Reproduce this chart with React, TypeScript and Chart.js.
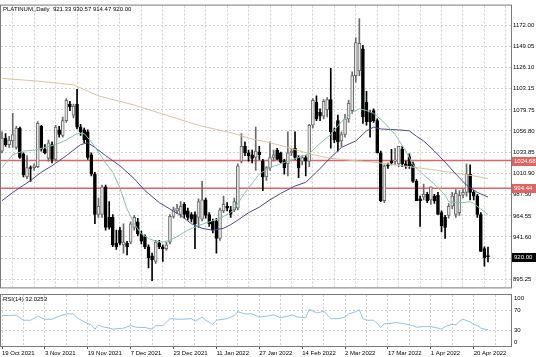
import React, { useEffect, useRef } from 'react';
import { Chart, registerables } from 'chart.js';

Chart.register(...registerables);

// ---------------- DATA ----------------
const TITLE = 'PLATINUM,,Daily  921.33 930.57 914.47 920.00';
const RSI_TITLE = 'RSI(14) 32.0253';

const DATE_LABELS = [
  '19 Oct 2021', '3 Nov 2021', '19 Nov 2021', '7 Dec 2021', '23 Dec 2021', '11 Jan 2022',
  '27 Jan 2022', '14 Feb 2022', '2 Mar 2022', '17 Mar 2022', '1 Apr 2022', '20 Apr 2022',
];

const OPEN = [
  1035, 1049, 1042, 1046, 1039, 1060, 1032, 1007, 1017, 1017, 1018, 1062, 1037, 1027, 1042, 1026, 1058, 1052, 1068, 1086,
  1074, 1086, 1061, 1058, 1056, 1031, 1010, 966, 966, 996, 963, 963, 935, 949, 933, 935, 936, 952, 958, 945,
  942, 931, 921, 915, 935, 931, 929, 936, 964, 970, 966, 977, 970, 966, 966, 963, 961, 982, 966, 959,
  959, 940, 970, 975, 971, 971, 973, 1024, 1040, 1033, 1031, 1028, 1034, 1024, 1007, 1017, 1028, 1036, 1033, 1024,
  1021, 1033, 1038, 1028, 1024, 1028, 1024, 1063, 1088, 1077, 1073, 1080, 1091, 1056, 1068, 1046, 1053, 1070, 1079, 1117,
  1122, 1146, 1088, 1077, 1079, 1068, 1033, 981, 1020, 1024, 1024, 1021, 1037, 1021, 1029, 1021, 1002, 983, 985, 988,
  982, 986, 987, 968, 963, 965, 975, 966, 968, 987, 990, 1010, 990, 986, 966, 929, 921.33,
];
const HIGH = [
  1056, 1054, 1051, 1076, 1062, 1061, 1033, 1030, 1019, 1021, 1067, 1063, 1042, 1047, 1045, 1063, 1062, 1072, 1092, 1089,
  1086, 1102, 1064, 1060, 1058, 1033, 1012, 984, 998, 998, 980, 966, 949, 952, 956, 937, 958, 965, 962, 948,
  944, 933, 924, 938, 938, 933, 936, 966, 974, 977, 980, 979, 973, 968, 969, 983, 1002, 984, 968, 961,
  962, 973, 986, 979, 975, 984, 1021, 1054, 1045, 1036, 1036, 1061, 1040, 1026, 1018, 1045, 1036, 1038, 1034, 1026,
  1056, 1038, 1056, 1030, 1030, 1030, 1064, 1092, 1095, 1081, 1091, 1093, 1125, 1060, 1074, 1056, 1075, 1090, 1121, 1158,
  1179, 1150, 1100, 1079, 1081, 1070, 1035, 1020, 1022, 1037, 1038, 1040, 1040, 1024, 1032, 1023, 1004, 986, 999, 990,
  996, 988, 990, 970, 965, 978, 990, 993, 992, 993, 1021, 1020, 992, 988, 968, 931, 930.57,
];
const LOW = [
  1033, 1040, 1039, 1039, 1037, 1027, 1007, 1005, 1002, 1014, 1017, 1035, 1032, 1024, 1022, 1024, 1050, 1050, 1066, 1079,
  1071, 1059, 1052, 1044, 1026, 1008, 956, 963, 963, 949, 950, 931, 928, 933, 924, 922, 934, 949, 943, 934,
  929, 908, 894, 913, 929, 915, 927, 934, 962, 967, 963, 962, 960, 958, 929, 952, 959, 962, 953, 946,
  924, 938, 968, 970, 963, 969, 971, 1022, 1030, 1024, 1022, 1014, 1026, 992, 1003, 1014, 1024, 1026, 1022, 1010,
  1008, 1030, 1026, 1006, 1020, 1008, 1018, 1060, 1068, 1068, 1070, 1072, 1038, 1044, 1035, 1040, 1050, 1066, 1076, 1110,
  1117, 1065, 1063, 1050, 1066, 1033, 980, 979, 1016, 1020, 1020, 1018, 1018, 1016, 1016, 1001, 981, 953, 982, 979,
  977, 978, 966, 947, 940, 962, 972, 963, 965, 984, 986, 982, 982, 963, 926, 910, 914.47,
];
const CLOSE = [
  1049, 1042, 1047, 1053, 1060, 1028, 1009, 1017, 1016, 1019, 1065, 1037, 1033, 1044, 1026, 1061, 1053, 1068, 1090, 1083,
  1084, 1061, 1056, 1047, 1028, 1010, 966, 975, 996, 952, 952, 933, 931, 935, 936, 931, 956, 963, 945, 937,
  931, 919, 917, 936, 931, 929, 933, 964, 971, 973, 975, 966, 963, 961, 956, 980, 982, 965, 956, 949,
  940, 971, 977, 973, 966, 980, 1019, 1040, 1033, 1030, 1027, 1035, 1031, 1007, 1017, 1028, 1031, 1026, 1023, 1017,
  1033, 1035, 1028, 1017, 1028, 1024, 1063, 1090, 1070, 1073, 1089, 1091, 1056, 1047, 1045, 1053, 1070, 1087, 1117, 1153,
  1152, 1072, 1067, 1067, 1068, 1033, 981, 1019, 1019, 1022, 1025, 1040, 1021, 1019, 1019, 1002, 981, 981, 988, 981,
  996, 981, 966, 954, 952, 975, 986, 989, 987, 990, 1010, 990, 986, 966, 926, 919, 920.0,
];

// moving averages: [bar, value]
const MA_FAST = [
  [0, 1017], [3, 1031], [6, 1035], [9, 1036], [12, 1039], [15, 1042], [18, 1047], [21, 1054], [23, 1054], [25, 1045],
  [27, 1034], [29, 1022], [31, 1012], [33, 995], [35, 972], [37, 956], [39, 945], [41, 940], [43, 937], [45, 936],
  [47, 938], [49, 942], [52, 949], [55, 954], [58, 958], [61, 962], [64, 968], [66, 978], [68, 990], [70, 1000],
  [72, 1010], [75, 1017], [80, 1024], [86, 1032], [88, 1040], [92, 1053], [95, 1067], [98, 1077], [100, 1081], [102, 1079],
  [104, 1076], [107, 1066], [110, 1053], [113, 1035], [115, 1020], [118, 1009], [121, 999], [124, 987], [125, 980], [127, 979],
  [129, 979], [131, 980], [132, 978], [134, 972], [136, 966],
];
const MA_MID = [
  [0, 981], [3, 990], [8, 1003], [11, 1012], [14, 1019], [18, 1030], [22, 1042], [24, 1044], [26, 1039], [29, 1030],
  [33, 1019], [37, 1005], [40, 992], [44, 979], [47, 972], [50, 965], [53, 956], [56, 951], [59, 949], [62, 951],
  [64, 955], [66, 960], [69, 968], [72, 974], [75, 982], [78, 989], [82, 997], [85, 1001], [88, 1012], [92, 1028],
  [95, 1039], [99, 1046], [102, 1057], [104, 1061], [106, 1059], [111, 1058], [114, 1057], [116, 1051], [118, 1046], [121, 1035],
  [124, 1023], [127, 1010], [130, 998], [133, 990], [136, 985],
];
const MA_SLOW = [
  [0, 1114], [10, 1111], [20, 1107], [23, 1102], [27, 1095], [37, 1085], [46, 1074], [55, 1063], [65, 1054], [69, 1049],
  [75, 1044], [80, 1039], [86, 1032], [92, 1027], [99, 1024.5], [105, 1022.5], [114, 1018], [120, 1015], [127, 1011], [132, 1008],
  [136, 1005],
];
const RSI = [
  [0, 59.8], [2, 59.8], [4, 60.5], [6, 50.5], [8, 50.5], [10, 58.5], [12, 52.3], [14, 52.5], [16, 58.5], [18, 62.9],
  [20, 62.9], [21, 55.5], [23, 47.3], [25, 41.2], [26, 33.1], [27, 41.2], [28, 38], [30, 35], [31, 33.1], [34, 35],
  [36, 39.9], [38, 36.2], [40, 36.2], [42, 33.1], [43, 39.9], [45, 39.9], [47, 53.6], [50, 52.3], [53, 53.6], [54, 48.6],
  [56, 56.6], [57, 50.5], [59, 42.5], [60, 50.5], [63, 53.6], [65, 59.8], [66, 67.2], [68, 62.9], [70, 62.9], [72, 56.6],
  [74, 58.5], [76, 61], [78, 55.5], [80, 58.5], [81, 61], [83, 56.6], [85, 55.5], [86, 72.2], [88, 64.8], [89, 66],
  [90, 69.1], [92, 53.6], [94, 53.6], [96, 56.6], [97, 62.9], [99, 67.2], [100, 71], [101, 53.6], [102, 50.5], [104, 50.5],
  [105, 44.3], [106, 36.2], [107, 43.7], [109, 44.3], [110, 46.1], [112, 44.3], [113, 43], [115, 39.9], [116, 36.8], [118, 38],
  [120, 38], [122, 35], [123, 33.1], [124, 38], [126, 42.5], [127, 41.2], [128, 48.6], [129, 52.3], [131, 47.3], [132, 43],
  [133, 39.9], [134, 35], [135, 33.1], [136, 32.0],
];

const PRICE_TICKS = [1172.0, 1149.05, 1126.1, 1103.15, 1079.75, 1056.8, 1033.85, 1010.9, 987.5, 964.55, 941.6, 918.65, 895.25];
const LEVELS = [1024.68, 994.44];
const LAST_PRICE = 920.0;
const RSI_LEVELS = [30, 70];
const RSI_LABELS = [100, 70, 30, 0];

// ---------------- STYLE ----------------
const FONT = '"Liberation Sans", Arial, sans-serif';
const X_MIN = -0.28;
const X_MAX = 142.44;
const GRID_STEP = 6;
const LABEL_STEP = 12;
const GRID_COLOR = '#cfcfcf';
const FRAME_COLOR = '#7a7a7a';
const GREEN = '#86c2aa';
const BLUE = '#4a4a8c';
const TAN = '#d9c4a0';
const RED = '#e06464';
const RSI_COLOR = '#92c2e0';

function gridTicks() {
  const t: { value: number }[] = [];
  for (let v = 0; v <= X_MAX; v += GRID_STEP) t.push({ value: v });
  return t;
}

function frame(chart: any) {
  const { ctx, chartArea: a } = chart;
  ctx.save();
  ctx.strokeStyle = FRAME_COLOR;
  ctx.lineWidth = 1;
  ctx.strokeRect(a.left - 0.5, a.top - 0.5, a.right - a.left + 1, a.bottom - a.top + 1);
  ctx.restore();
}

export default function App() {
  const mainRef = useRef<HTMLCanvasElement>(null);
  const rsiRef = useRef<HTMLCanvasElement>(null);

  useEffect(() => {
    const idx = OPEN.map((_, i) => i);
    const bull = idx.map((i) => CLOSE[i] >= OPEN[i]);

    const mainPlugin = {
      id: 'mainDeco',
      afterDraw(chart: any) {
        const { ctx, chartArea: a, scales } = chart;
        frame(chart);
        ctx.save();
        ctx.font = `6px ${FONT}`;
        ctx.textBaseline = 'middle';
        ctx.fillStyle = '#000';
        ctx.textAlign = 'left';
        ctx.fillText(TITLE, a.left + 2, a.top + 4);
        const boxes = [
          { v: LEVELS[0], bg: RED },
          { v: LEVELS[1], bg: RED },
          { v: LAST_PRICE, bg: '#000' },
        ];
        for (const b of boxes) {
          const y = scales.y.getPixelForValue(b.v);
          ctx.fillStyle = b.bg;
          ctx.fillRect(a.right + 1, Math.round(y) - 4, 25, 9);
          ctx.fillStyle = '#fff';
          ctx.fillText(b.v.toFixed(2), a.right + 3, Math.round(y) + 0.5);
        }
        ctx.restore();
      },
    };

    const lineDs = (pts: number[][], color: string, order: number, width = 1) => ({
      type: 'line' as const,
      data: pts.map(([x, y]) => ({ x, y })),
      borderColor: color,
      borderWidth: width,
      pointRadius: 0,
      tension: 0,
      order,
    });

    const main = new Chart(mainRef.current as HTMLCanvasElement, {
      type: 'bar',
      data: {
        datasets: [
          lineDs(MA_FAST, GREEN, 0),
          lineDs(MA_MID, BLUE, 0),
          lineDs(MA_SLOW, TAN, 0),
          {
            type: 'bar',
            data: idx.map((i) => ({ x: i, y: [OPEN[i], CLOSE[i]] })),
            backgroundColor: idx.map((i) => (bull[i] ? '#e8e8e8' : '#000')),
            borderColor: idx.map((i) => (bull[i] ? '#6a6a6a' : '#000')),
            borderWidth: 1,
            borderSkipped: false,
            barThickness: 3,
            minBarLength: 1,
            grouped: false,
            order: 1,
          } as any,
          {
            type: 'bar',
            data: idx.map((i) => ({ x: i, y: [LOW[i], HIGH[i]] })),
            backgroundColor: idx.map((i) => (bull[i] ? '#6a6a6a' : '#000')),
            barThickness: 1,
            grouped: false,
            order: 2,
          } as any,
          ...LEVELS.map((v) => lineDs([[X_MIN, v], [X_MAX, v]], RED, 3, 1.5)),
        ],
      },
      options: {
        responsive: false,
        animation: false,
        devicePixelRatio: 1,
        events: [],
        layout: { padding: { left: 1, top: 2, right: 0, bottom: 1 } },
        plugins: { legend: { display: false }, tooltip: { enabled: false } },
        scales: {
          x: {
            type: 'linear',
            min: X_MIN,
            max: X_MAX,
            offset: false,
            afterBuildTicks: (s: any) => {
              s.ticks = gridTicks();
            },
            afterFit: (s: any) => {
              s.height = 0;
            },
            ticks: { display: false },
            grid: { color: GRID_COLOR, drawTicks: false, lineWidth: 1 },
            border: { display: false, dash: [2, 2] },
          },
          y: {
            position: 'right',
            min: 886.8,
            max: 1193.1,
            afterBuildTicks: (s: any) => {
              s.ticks = PRICE_TICKS.map((v) => ({ value: v }));
            },
            afterFit: (s: any) => {
              s.width = 25;
            },
            ticks: {
              padding: 2,
              color: '#000',
              font: { family: FONT, size: 6 },
              callback: (v: any) => Number(v).toFixed(2),
            },
            grid: { color: GRID_COLOR, drawTicks: false },
            border: { display: false, dash: [2, 2] },
          },
        },
      } as any,
      plugins: [mainPlugin],
    });

    const rsiPlugin = {
      id: 'rsiDeco',
      afterDraw(chart: any) {
        const { ctx, chartArea: a, scales } = chart;
        frame(chart);
        ctx.save();
        ctx.font = `6px ${FONT}`;
        ctx.textBaseline = 'middle';
        ctx.fillStyle = '#000';
        ctx.textAlign = 'left';
        ctx.fillText(RSI_TITLE, a.left + 2, a.top + 4);
        for (const v of RSI_LABELS) {
          let y = scales.y.getPixelForValue(v);
          if (v === 100) y = a.top + 3.5;
          if (v === 0) y = a.bottom - 3.5;
          ctx.fillText(String(v), a.right + 3, y);
        }
        ctx.restore();
      },
    };

    const rsi = new Chart(rsiRef.current as HTMLCanvasElement, {
      type: 'line',
      data: {
        datasets: [
          {
            data: RSI.map(([x, y]) => ({ x, y })),
            borderColor: RSI_COLOR,
            borderWidth: 1,
            pointRadius: 0,
            tension: 0,
          },
        ],
      },
      options: {
        responsive: false,
        animation: false,
        devicePixelRatio: 1,
        events: [],
        layout: { padding: { left: 1, top: 2, right: 0, bottom: 0 } },
        plugins: { legend: { display: false }, tooltip: { enabled: false } },
        scales: {
          x: {
            type: 'linear',
            min: X_MIN,
            max: X_MAX,
            offset: false,
            afterBuildTicks: (s: any) => {
              s.ticks = gridTicks();
            },
            afterFit: (s: any) => {
              s.height = 11;
            },
            ticks: {
              autoSkip: false,
              maxRotation: 0,
              align: 'start',
              padding: 1,
              color: '#000',
              font: { family: FONT, size: 6 },
              callback: (v: any) => {
                const n = Number(v);
                return n % LABEL_STEP === 0 ? DATE_LABELS[n / LABEL_STEP] ?? '' : '';
              },
            },
            grid: {
              color: GRID_COLOR,
              tickLength: 3,
              tickColor: (c: any) => (c.tick && c.tick.value % LABEL_STEP === 0 ? '#555' : 'rgba(0,0,0,0)'),
            },
            border: { display: false, dash: [2, 2] },
          },
          y: {
            position: 'right',
            min: 0,
            max: 100,
            afterBuildTicks: (s: any) => {
              s.ticks = RSI_LEVELS.map((v) => ({ value: v }));
            },
            afterFit: (s: any) => {
              s.width = 25;
            },
            ticks: { display: false },
            grid: { color: GRID_COLOR, drawTicks: false },
            border: { display: false, dash: [2, 2] },
          },
        },
      } as any,
      plugins: [rsiPlugin],
    });

    return () => {
      main.destroy();
      rsi.destroy();
    };
  }, []);

  return (
    <div style={{ position: 'fixed', left: 0, top: 0, width: 536, height: 357, background: '#fff', overflow: 'hidden' }}>
      <canvas ref={mainRef} width={536} height={293} style={{ position: 'absolute', left: 0, top: 0 }} />
      <canvas ref={rsiRef} width={536} height={64} style={{ position: 'absolute', left: 0, top: 293 }} />
    </div>
  );
}
